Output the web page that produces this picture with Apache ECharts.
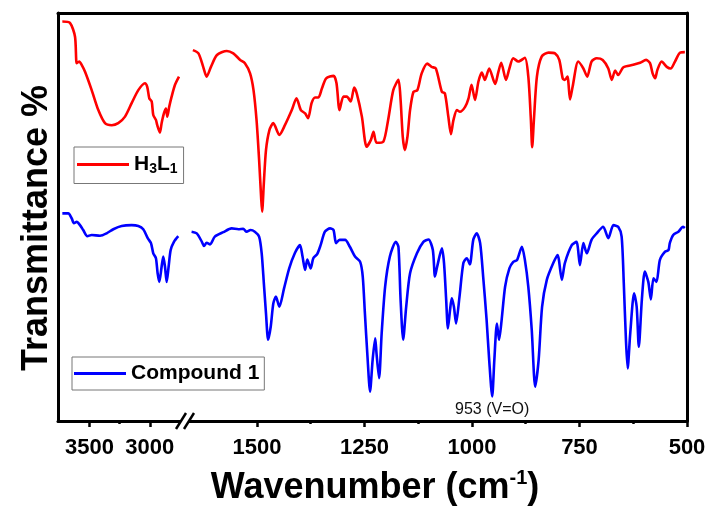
<!DOCTYPE html>
<html>
<head>
<meta charset="utf-8">
<script src="https://cdn.jsdelivr.net/npm/echarts@6/dist/echarts.min.js"></script>
<style>html,body{margin:0;padding:0;background:#fff}#c{width:713px;height:513px}</style>
</head>
<body>
<div id="c"></div>
<script>
// ---- data (wavenumber, cm-1 / transmittance, a.u. offset) ----
const redLeftWn  = [3724,3661,3619,3605,3584,3564,3536,3481,3426,3371,3315,3261,3205,3150,3095,3040,3021,3004,2984,2971,2949,2938,2916,2902,2883,2866,2855,2839,2819,2791,2758];
const redLeftT   = [97.9,97.6,94.2,87.7,88.1,87.3,85.6,81.1,76.2,73.0,72.5,73.0,74.6,77.9,81.1,82.8,81.9,79.1,78.3,75.0,73.8,72.5,70.7,73.0,75.4,76.6,74.6,77.0,79.5,82.4,84.4];

const redRightWn = [1649,1636,1625,1617,1607,1593,1570,1555,1539,1528,1516,1508,1501,1495,1490,1488,1484,1479,1471,1462,1448,1435,1419,1408,1398,1388,1381,1373,1365,1357,1349,1339,1322,1315,1308,1299,1291,1282,1274,1268,1256,1245,1235,1229,1222,1206,1195,1183,1171,1166,1161,1156,1150,1144,1136,1127,1117,1104,1094,1084,1070,1063,1055,1049,1043,1035,1028,1016,1008,1001,993,985,977,970,960,946,939,932,921,913,904,892,877,869,863,860,856,849,838,822,807,797,789,784,778,772,766,753,741,732,722,710,696,683,675,667,660,648,625,609,595,586,580,574,569,559,547,538,528,516,505];
const redRightT  = [90.9,90.1,86.8,84.4,86.8,89.7,90.7,90.1,88.5,87.7,85.2,81.1,73.8,64.0,54.2,51.3,58.3,66.4,71.3,73.0,70.1,72.5,76.2,79.1,76.2,75.4,74.2,77.9,79.3,79.3,81.5,84.0,84.6,82.8,76.2,79.5,79.5,78.3,81.7,80.3,74.6,67.2,68.9,70.9,68.2,68.5,73.8,81.1,83.6,78.7,69.7,66.4,69.7,76.2,80.7,81.1,85.2,87.6,86.8,86.4,80.7,80.3,74.6,70.3,73.8,76.2,75.8,77.0,79.1,82.4,78.7,83.2,85.4,83.6,86.4,82.6,85.4,87.8,83.6,86.4,88.9,88.1,89.0,84.4,73.8,67.1,73.8,84.4,89.3,90.3,90.1,88.5,84.0,83.6,84.4,78.8,81.9,88.1,86.4,84.4,88.1,88.9,88.5,86.4,83.6,85.9,84.8,86.7,87.3,87.8,88.5,87.7,85.2,84.0,86.0,88.1,86.8,86.4,88.1,90.3,90.4];

const blueLeftWn = [3724,3675,3647,3628,3605,3578,3551,3517,3481,3412,3357,3302,3233,3150,3095,3054,3017,2990,2971,2949,2935,2921,2902,2888,2874,2860,2844,2827,2800,2764];
const blueLeftT  = [50.9,50.9,49.7,48.5,48.8,48.0,46.8,45.3,45.6,45.4,46.0,47.0,47.8,48.0,47.8,47.0,44.8,43.6,41.1,39.9,36.2,34.1,37.8,40.3,37.8,34.1,37.8,41.9,43.9,45.3];

const blueRightWn = [1652,1640,1628,1623,1617,1609,1598,1578,1559,1543,1532,1524,1515,1505,1495,1489,1484,1479,1474,1468,1462,1456,1448,1437,1425,1412,1400,1394,1388,1383,1375,1369,1360,1352,1342,1330,1322,1316,1308,1295,1284,1272,1260,1254,1249,1243,1237,1231,1225,1222,1216,1210,1202,1191,1177,1171,1166,1160,1153,1144,1128,1113,1101,1091,1086,1081,1070,1065,1060,1056,1051,1047,1042,1037,1029,1020,1012,1005,997,989,981,974,966,960,953,948,942,937,931,923,913,904,895,884,877,869,861,853,845,837,826,811,801,791,784,768,757,749,741,733,722,710,695,683,671,660,652,647,642,638,632,623,617,612,605,598,590,584,578,571,563,551,543,540,532,520,509,505];
const blueRightT  = [46.4,46.0,43.9,42.9,43.7,43.3,45.2,46.3,47.2,47.0,47.1,46.4,46.8,46.4,45.2,41.1,33.8,26.4,19.9,23.1,28.8,30.5,28.0,32.5,37.4,41.1,43.1,40.3,37.0,39.6,37.4,39.9,40.9,43.1,46.4,47.2,46.8,43.6,44.4,44.4,42.7,40.3,39.0,35.4,26.4,15.8,7.2,15.0,20.3,16.6,10.5,21.5,32.9,40.3,43.9,42.7,29.7,19.9,28.0,36.2,41.1,43.9,44.5,41.9,35.4,37.8,42.3,38.7,29.7,22.7,27.2,30.1,28.0,23.9,30.5,38.7,39.9,38.4,44.4,46.0,43.6,35.4,24.8,15.0,6.0,15.0,23.9,19.9,24.8,32.9,37.4,39.0,39.5,42.7,39.5,32.9,22.3,8.4,15.0,28.0,34.6,38.7,40.7,34.6,38.7,43.1,43.9,38.2,43.6,41.1,44.4,46.0,47.6,44.8,48.0,47.6,45.2,33.8,19.9,12.9,21.5,31.3,28.0,18.2,29.7,36.6,34.1,29.8,35.0,34.1,39.5,41.5,41.9,43.6,45.6,46.4,47.6,47.3];

const leftTicks  = [3500, 3000];
const leftMinor  = [3250];
const rightTicks = [1500, 1250, 1000, 750, 500];
const rightMinor = [1375, 1125, 875, 625];
const annotWn = 953, annotT = 6.0, annotText = '953 (V=O)';
const nameRed = 'H3L1', nameBlue = 'Compound 1';

function zip(a, b) { return a.map((v, i) => [v, b[i]]); }

const FONT = '"Liberation Sans", Arial, sans-serif';
const chart = echarts.init(document.getElementById('c'), null, {renderer: 'canvas'});

const lineAxis = {show: true, lineStyle: {color: '#000', width: 3}};
function mainX(gi, min, max, ticks) {
  return {type: 'value', gridIndex: gi, min: min, max: max, inverse: true, position: 'bottom',
    axisLine: lineAxis, splitLine: {show: false},
    axisTick: {show: true, inside: false, length: 6, lineStyle: {color: '#000', width: 2.5}, customValues: ticks},
    axisLabel: {show: true, customValues: ticks, margin: 16, color: '#000', fontFamily: FONT, fontWeight: 'bold', fontSize: 22,
      formatter: function (v) { return String(v); }}};
}
function minorX(gi, min, max, ticks) {
  return {type: 'value', gridIndex: gi, min: min, max: max, inverse: true, position: 'bottom',
    axisLine: {show: false}, splitLine: {show: false},
    axisTick: {show: true, inside: false, length: 3, lineStyle: {color: '#000', width: 2.5}, customValues: ticks},
    axisLabel: {show: false}};
}
function topX(gi, min, max) {
  return {type: 'value', gridIndex: gi, min: min, max: max, inverse: true, position: 'top',
    axisLine: lineAxis, splitLine: {show: false}, axisTick: {show: false}, axisLabel: {show: false}};
}

const seriesBase = {type: 'line', showSymbol: false, symbol: 'none', smooth: 0.25, animation: false};

chart.setOption({
  animation: false,
  backgroundColor: '#fff',
  grid: [
    {left: 58, top: 13, width: 128, bottom: 92},
    {left: 186, top: 13, width: 501, bottom: 92}
  ],
  xAxis: [
    mainX(0, 2700, 3760, leftTicks),
    minorX(0, 2700, 3760, leftMinor),
    topX(0, 2700, 3760),
    mainX(1, 500, 1665, rightTicks),
    minorX(1, 500, 1665, rightMinor),
    topX(1, 500, 1665)
  ],
  yAxis: [
    {type: 'value', gridIndex: 0, min: 0, max: 100, position: 'left', axisLine: lineAxis,
      axisTick: {show: false}, axisLabel: {show: false}, splitLine: {show: false}},
    {type: 'value', gridIndex: 1, min: 0, max: 100, position: 'right', axisLine: lineAxis,
      axisTick: {show: false}, axisLabel: {show: false}, splitLine: {show: false}}
  ],
  legend: [
    {data: [nameRed], left: 74, top: 147, orient: 'vertical', selectedMode: false,
      icon: 'rect', itemWidth: 52, itemHeight: 3, padding: [7, 6, 7, 3],
      borderColor: '#777', borderWidth: 1,
      formatter: function () { return '{a|H}{b|3}{a|L}{b|1}'; },
      textStyle: {color: '#000', fontFamily: FONT, fontWeight: 'bold',
        rich: {a: {fontSize: 21, fontWeight: 'bold', fontFamily: FONT, color: '#000', lineHeight: 24},
               b: {fontSize: 14, fontWeight: 'bold', fontFamily: FONT, color: '#000', verticalAlign: 'bottom', lineHeight: 16}}}},
    {data: [nameBlue], left: 72, top: 357, orient: 'vertical', selectedMode: false,
      icon: 'rect', itemWidth: 52, itemHeight: 3, padding: [6, 5, 6, 2],
      borderColor: '#777', borderWidth: 1,
      textStyle: {color: '#000', fontFamily: FONT, fontWeight: 'bold', fontSize: 21}}
  ],
  series: [
    Object.assign({}, seriesBase, {name: nameRed, xAxisIndex: 0, yAxisIndex: 0, data: zip(redLeftWn, redLeftT),
      color: '#f00', lineStyle: {color: '#f00', width: 2.6}}),
    Object.assign({}, seriesBase, {name: nameRed, xAxisIndex: 3, yAxisIndex: 1, data: zip(redRightWn, redRightT),
      color: '#f00', lineStyle: {color: '#f00', width: 2.6}}),
    Object.assign({}, seriesBase, {name: nameBlue, xAxisIndex: 0, yAxisIndex: 0, data: zip(blueLeftWn, blueLeftT),
      color: '#00f', lineStyle: {color: '#00f', width: 2.6}}),
    Object.assign({}, seriesBase, {name: nameBlue, xAxisIndex: 3, yAxisIndex: 1, data: zip(blueRightWn, blueRightT),
      color: '#00f', lineStyle: {color: '#00f', width: 2.6},
      markPoint: {symbol: 'circle', symbolSize: 1, itemStyle: {color: 'rgba(0,0,0,0)'}, animation: false,
        data: [{coord: [annotWn, annotT], value: annotText}],
        label: {show: true, position: 'bottom', distance: 5, formatter: annotText,
          color: '#111', fontFamily: FONT, fontSize: 16}}})
  ],
  graphic: {elements: [
    {type: 'polygon', z: 100, shape: {points: [[179, 425], [184, 417], [191, 417], [186, 425]]}, style: {fill: '#fff'}},
    {type: 'line', z: 101, shape: {x1: 176, y1: 429, x2: 186, y2: 413}, style: {stroke: '#000', lineWidth: 2.5}},
    {type: 'line', z: 101, shape: {x1: 184, y1: 429, x2: 194, y2: 413}, style: {stroke: '#000', lineWidth: 2.5}},
    {type: 'text', z: 100, x: 375, y: 488, style: {
      text: '{a|Wavenumber (cm}{s|-1}{a|)}', align: 'center', verticalAlign: 'middle', fill: '#000',
      rich: {a: {fontSize: 36, fontWeight: 'bold', fontFamily: FONT, fill: '#000', lineHeight: 40},
             s: {fontSize: 20, fontWeight: 'bold', fontFamily: FONT, fill: '#000', verticalAlign: 'top', lineHeight: 22}}}},
    {type: 'text', z: 100, x: 37, y: 228, rotation: Math.PI / 2, style: {
      text: 'Transmittance %', align: 'center', verticalAlign: 'middle', fill: '#000',
      fontSize: 36, fontWeight: 'bold', fontFamily: FONT}}
  ]}
});
</script>
</body>
</html>
